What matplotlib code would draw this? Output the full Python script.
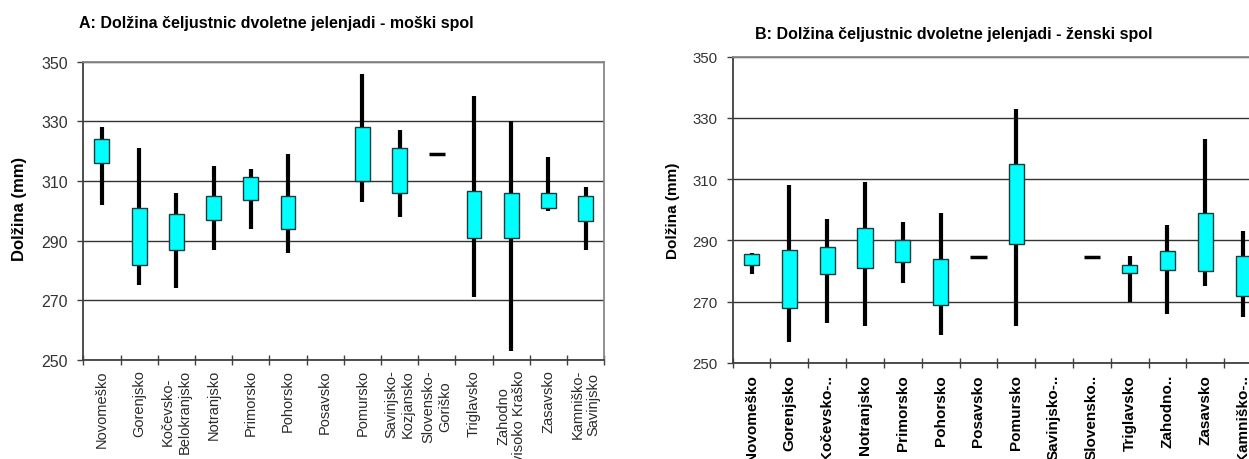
import numpy as np
import matplotlib.pyplot as plt

plt.rcParams['font.family'] = ['Liberation Sans', 'DejaVu Sans']

nan = np.nan

# moški spol
regije_m = ["Novomeško", "Gorenjsko", "Kočevsko-\nBelokranjsko", "Notranjsko",
            "Primorsko", "Pohorsko", "Posavsko", "Pomursko", "Savinjsko-\nKozjansko",
            "Slovensko-\nGoriško", "Triglavsko", "Zahodno\nvisoko Kraško", "Zasavsko",
            "Kamniško-\nSavinjsko"]
m_max = [328, 321, 306, 315, 314, 319, nan, 346, 327, 319, 338.5, 330, 318, 308]
m_min = [302, 275, 274, 287, 294, 286, nan, 303, 298, 319, 271, 253, 300, 287]
m_zg = [324, 301, 299, 305, 311.5, 305, nan, 328, 321, 319, 306.5, 306, 306, 305]
m_sp = [316, 282, 287, 297, 303.5, 294, nan, 310, 306, 319, 291, 291, 301, 296.5]

# ženski spol
regije_z = ["Novomeško", "Gorenjsko", "Kočevsko-..", "Notranjsko", "Primorsko",
            "Pohorsko", "Posavsko", "Pomursko", "Savinjsko-..", "Slovensko..",
            "Triglavsko", "Zahodno..", "Zasavsko", "Kamniško-.."]
z_max = [286, 308, 297, 309, 296, 299, 284.5, 333, nan, 284.5, 285, 295, 323, 293]
z_min = [279, 257, 263, 262, 276, 259, 284.5, 262, nan, 284.5, 270, 266, 275, 265]
z_zg = [285.5, 287, 288, 294, 290, 284, 284.5, 315, nan, 284.5, 282, 286.5, 299, 285]
z_sp = [282, 268, 279, 281, 283, 269, 284.5, 289, nan, 284.5, 279.5, 280.5, 280, 272]

yticks = [250, 270, 290, 310, 330, 350]


def narisi(ax, labels, hi, lo, zg, sp, lab_kw, tick_size, pad):
    x = np.arange(len(labels))
    hi, lo, zg, sp = map(np.array, (hi, lo, zg, sp))
    ok = ~np.isnan(hi)
    eno = ok & (hi == lo)      # samo ena vrednost -> črtica
    vec = ok & ~eno
    ax.vlines(x[vec], lo[vec], hi[vec], color='black', lw=3, zorder=2)
    ax.bar(x[vec], zg[vec] - sp[vec], bottom=sp[vec], width=0.4,
           color='#00FFFF', edgecolor='#1c3c3c', lw=1, zorder=3)
    ax.hlines(hi[eno], x[eno] - 0.22, x[eno] + 0.22, color='black', lw=2.5, zorder=3)

    ax.set_xlim(-0.5, len(labels) - 0.5)
    ax.set_ylim(250, 350)
    ax.set_yticks(yticks)
    ax.yaxis.grid(True, color='#333333', lw=1)
    ax.set_axisbelow(True)
    ax.tick_params(axis='y', direction='out', length=4, width=1, color='#404040',
                   labelsize=tick_size, labelcolor='#333333', pad=7)

    ax.set_xticks(x)
    ax.set_xticklabels(labels, rotation=90, va='top', ha='center',
                       multialignment='center', **lab_kw)
    ax.tick_params(axis='x', which='major', length=0, pad=pad)
    ax.set_xticks(np.arange(len(labels) + 1) - 0.5, minor=True)
    ax.tick_params(axis='x', which='minor', direction='inout', length=7,
                   width=1, color='#404040')

    for s in ('left', 'bottom'):
        ax.spines[s].set_color('#404040')
        ax.spines[s].set_linewidth(1.3)
    for s in ('top', 'right'):
        ax.spines[s].set_color('#888888')
        ax.spines[s].set_linewidth(1.3)


fig = plt.figure(figsize=(12.49, 4.6), dpi=100)

ax1 = fig.add_axes([0.0667, 0.2152, 0.4171, 0.6485])
narisi(ax1, regije_m, m_max, m_min, m_zg, m_sp,
       dict(fontsize=10.5, color='#2a2a2a'), 11.5, 6.5)
ax1.set_ylabel('Dolžina (mm)', fontsize=12, fontweight='bold')
ax1.yaxis.set_label_coords(-0.108, 0.51)

ax2 = fig.add_axes([0.5866, 0.2087, 0.4238, 0.6659])
narisi(ax2, regije_z, z_max, z_min, z_zg, z_sp,
       dict(fontsize=11, fontweight='bold', color='black'), 10.8, 8)
ax2.set_ylabel('Dolžina (mm)', fontsize=11, fontweight='bold')
ax2.yaxis.set_label_coords(-0.0996, 0.5)

fig.text(0.0633, 0.948, 'A: Dolžina čeljustnic dvoletne jelenjadi - moški spol',
         fontsize=11.5, fontweight='bold', va='center', ha='left')
fig.text(0.6045, 0.926, 'B: Dolžina čeljustnic dvoletne jelenjadi - ženski spol',
         fontsize=11.5, fontweight='bold', va='center', ha='left')

fig.savefig('out.png', dpi=100)
